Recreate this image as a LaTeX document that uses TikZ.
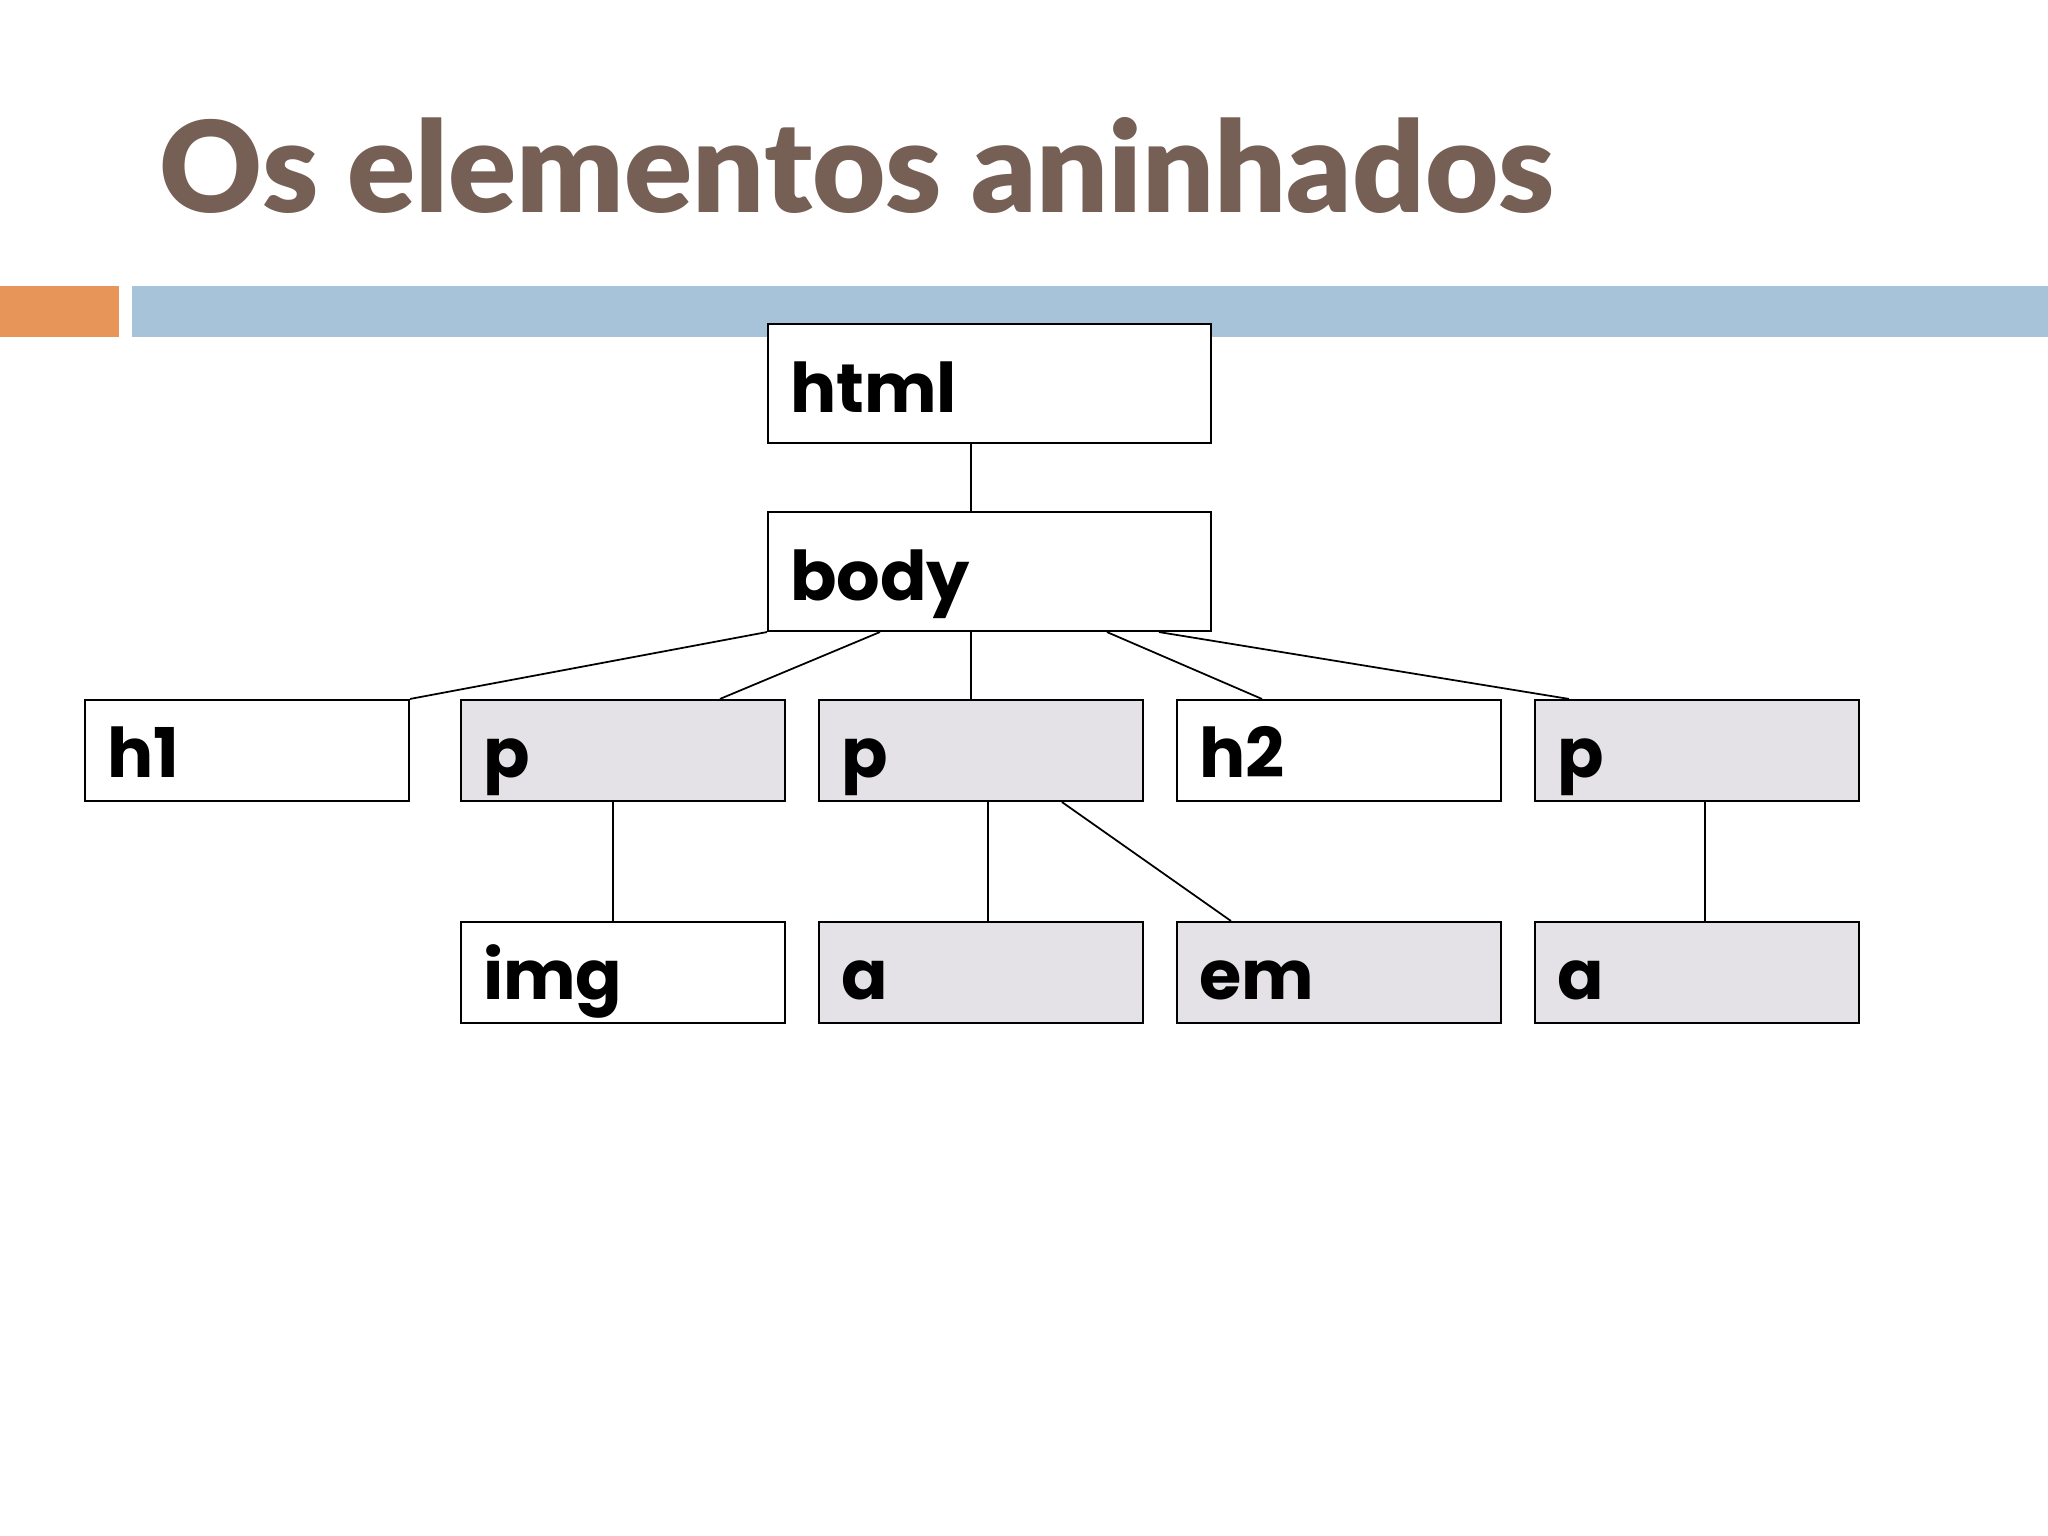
\documentclass[tikz,border=0pt]{standalone}
\usepackage{fontspec}
\usepackage{xcolor}
\usepackage{tikz}
\usetikzlibrary{positioning}
\usetikzlibrary{calc}

\newfontfamily\titlefont{Lato Black}
\newfontfamily\boxfont{Poppins}
\definecolor{titlebrown}{RGB}{118,96,85}
\definecolor{barorange}{RGB}{232,149,90}
\definecolor{barblue}{RGB}{167,195,218}
\definecolor{boxgray}{RGB}{228,226,230}

\tikzset{
  elem/.style={rectangle,draw=black,line width=0.6pt,fill=white,minimum height=1.01cm,
    text width=2.8cm,inner xsep=0.22cm,align=left,text height=0.6cm,text depth=0.07cm,
    font=\boxfont\bfseries\fontsize{19.5}{19.5}\selectfont},
  topelem/.style={text width=3.99cm,minimum height=1.19cm,text height=0.66cm},
  shaded/.style={fill=boxgray}
}

\begin{document}
\begin{tikzpicture}
    \fill[white] (0,0) rectangle (20.48,-15.36);
    \useasboundingbox (0,0) rectangle (20.48,-15.36);
    \node (title) [anchor=base west,inner sep=0,text=titlebrown,
      font=\titlefont\fontsize{36}{36}\selectfont] at (1.59,-2.13) {Os elementos aninhados};
    \fill[barorange] (0,-2.86) rectangle (1.19,-3.37);
    \fill[barblue] (1.32,-2.86) rectangle (20.48,-3.37);
    \begin{scope}[every node/.style={elem}]
      \node (html)[topelem] at (9.895,-3.835) {html};
      \node (body)[topelem] at (9.895,-5.715) {body};
      \node (h1) at (2.47,-7.505) {h1};
      \node (p1)[shaded] at (6.23,-7.505) {p};
      \node (p2)[shaded] at (9.81,-7.505) {p};
      \node (h2) at (13.39,-7.505) {h2};
      \node (p3)[shaded] at (16.97,-7.505) {p};
      \node (img) at (6.23,-9.725) {img};
      \node (a1)[shaded] at (9.81,-9.725) {a};
      \node (em)[shaded] at (13.39,-9.725) {em};
      \node (a2)[shaded] at (16.97,-9.725) {a};
    \end{scope}
    \begin{scope}[every edge/.style={draw=black,line width=0.5pt}]
      \path ([xshift=2.04cm]html.south west) edge ([xshift=2.04cm]body.north west);
      \path (body.south west) edge (h1.north east);
      \path ([xshift=1.13cm]body.south west) edge ([xshift=2.60cm]p1.north west);
      \path ([xshift=2.04cm]body.south west) edge ([xshift=1.53cm]p2.north west);
      \path ([xshift=3.40cm]body.south west) edge ([xshift=0.86cm]h2.north west);
      \path ([xshift=3.92cm]body.south west) edge ([xshift=0.35cm]p3.north west);
      \path ([xshift=1.53cm]p1.south west) edge ([xshift=1.53cm]img.north west);
      \path ([xshift=1.70cm]p2.south west) edge ([xshift=1.70cm]a1.north west);
      \path ([xshift=2.44cm]p2.south west) edge ([xshift=0.55cm]em.north west);
      \path ([xshift=1.71cm]p3.south west) edge ([xshift=1.71cm]a2.north west);
    \end{scope}
\end{tikzpicture}
\end{document}
